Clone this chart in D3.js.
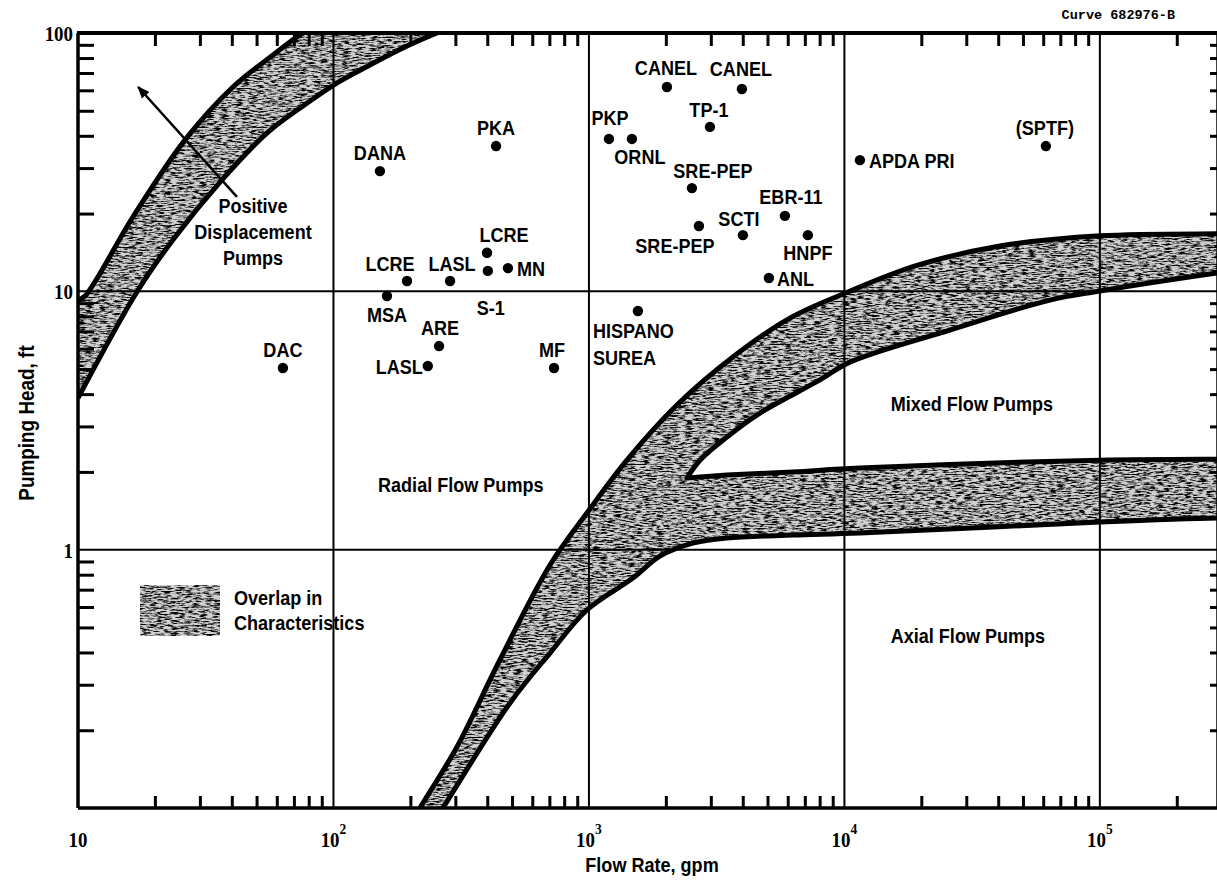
<!DOCTYPE html>
<html><head><meta charset="utf-8">
<script src="https://cdn.jsdelivr.net/npm/d3@7/dist/d3.min.js"></script>
<style>
html,body{margin:0;padding:0;background:#fff;}
svg{display:block;}
</style></head><body>
<script>
// ---------------- DATA ----------------
const pointNames = ["DAC","DANA","PKA","LCRE","LASL","LCRE","S-1","MN","MSA","ARE","LASL","MF","HISPANO\nSUREA",
  "PKP","ORNL","CANEL","CANEL","TP-1","SRE-PEP","SRE-PEP","SCTI","EBR-11","HNPF","ANL","APDA PRI","(SPTF)"];
const pointFlow = [63.4,152,433,194,286,399,402,482,162,259,234,730,1555,
  1198,1473,2020,3970,2976,2530,2695,4006,5850,7195,5064,11500,61460];
const pointHead = [5.05,29.2,36.5,10.96,10.96,14.1,12.0,12.3,9.59,6.14,5.14,5.05,8.39,
  38.9,38.9,61.8,60.7,43.3,25.1,17.9,16.5,19.6,16.5,11.26,32.2,36.5];

// Overlap band 1 (positive displacement / radial)
const band1UpperFlow = [10,10.65,16.4,26.2,40.4,58,76,96.8];
const band1UpperHead = [9.25,9.59,19.4,38.5,61.8,82.2,100,112];
const band1LowerFlow = [10,17.0,23.5,36.6,54.9,76,103,139,187,254,342];
const band1LowerHead = [3.86,9.94,15.8,27.0,41.0,52.2,64.0,75.2,87.5,100,112];

// Overlap band 2 (radial / mixed / axial)
const curveAFlow = [194,218,304,448,704,982,1408,2210,3660,6120,10320,19220,40610,100000,287000,353000];
const curveAHead = [0.0821,0.1,0.172,0.374,0.872,1.386,2.22,3.63,5.57,7.88,9.94,12.6,14.97,16.4,16.7,16.7];
const curveBFlow = [2419,2719,3468,4670,8020,10510,25870,63720,100000,287000,353000];
const curveBHead = [1.893,2.22,2.73,3.38,4.54,5.32,7.08,9.25,10.03,11.77,12.1];
const curveCFlow = [2419,3468,6286,11500,100000,287000,353000];
const curveCHead = [1.893,1.945,2.0,2.07,2.22,2.24,2.24];
const curveDFlow = [236,268,491,704,982,1486,1896,2553,3468,6286,11500,100000,287000,353000];
const curveDHead = [0.082,0.1,0.255,0.398,0.584,0.776,0.944,1.06,1.109,1.139,1.16,1.279,1.325,1.325];

// Arrow (positive displacement)
const arrowFlow = [41.9,17.2];
const arrowHead = [23.2,61.8];

// Axis ticks / labels
const xTickExp = [1,2,3,4,5];
const yTickLabels = ["100","10","1"];
const yTickValues = [100,10,1];
const regionNames = ["Radial Flow Pumps","Mixed Flow Pumps","Axial Flow Pumps"];
const pdLines = ["Positive","Displacement","Pumps"];
const legendLines = ["Overlap in","Characteristics"];

// ---------------- LAYOUT ----------------
const W = 1217, H = 882;
const L = 78, T = 33, R = 1218, B = 808;
const labelLayout = [ // [dx, dy(center), anchor]
  [0,-18,"middle"],[0,-19,"middle"],[0,-19,"middle"],[-17,-18,"middle"],[2,-18,"middle"],[17,-18,"middle"],
  [3,37,"middle"],[9,0,"start"],[0,18,"middle"],[1,-19,"middle"],[-5,0,"end"],[-2,-18,"middle"],[-45,19,"start"],
  [1,-21,"middle"],[8,18,"middle"],[-1,-19,"middle"],[-1,-21,"middle"],[-1,-17,"middle"],[21,-18,"middle"],
  [-24,19,"middle"],[-4,-17,"middle"],[6,-19,"middle"],[0,17,"middle"],[8,0,"start"],[9,0,"start"],[-1,-19,"middle"]];
const regionPos = [[315,1.79],[31550,3.69],[30440,0.467]];

const FONT = "'Liberation Sans',Arial,sans-serif";
const SX = 0.86; // condensed look
const SERIF = "'Liberation Serif','DejaVu Serif',serif";

const x = d3.scaleLog().domain([10, 2.9e5]).range([L, R]);
const y = d3.scaleLog().domain([0.1, 100]).range([B, T]);

const svg = d3.select("body").append("svg").attr("width", W).attr("height", H);
svg.append("rect").attr("width", W).attr("height", H).attr("fill", "#fff");

const defs = svg.append("defs");
defs.append("clipPath").attr("id","plotClip").append("rect")
  .attr("x", L).attr("y", T).attr("width", R - L).attr("height", B - T);
const f = defs.append("filter").attr("id","grain").attr("filterUnits","userSpaceOnUse")
  .attr("x",0).attr("y",0).attr("width",W).attr("height",H);
f.append("feTurbulence").attr("type","fractalNoise").attr("baseFrequency","0.14 0.7")
  .attr("numOctaves",4).attr("seed",5).attr("result","t");
f.append("feColorMatrix").attr("in","t").attr("type","matrix")
  .attr("values","0 0 0 0 0  0 0 0 0 0  0 0 0 0 0  -3.6 0 0 0 2.1").attr("result","m");
f.append("feComposite").attr("in","m").attr("in2","SourceAlpha").attr("operator","in");
const mk = defs.append("marker").attr("id","arrowHead").attr("viewBox","0 0 10 10")
  .attr("refX",9).attr("refY",5).attr("markerWidth",5).attr("markerHeight",5)
  .attr("orient","auto").attr("markerUnits","strokeWidth");
mk.append("path").attr("d","M0,1 L10,5 L0,9 Z").attr("fill","#000");

function seg(fl, hd) {
  const pts = fl.map((v,i)=>[x(v), y(hd[i])]);
  return d3.line().curve(d3.curveCatmullRom.alpha(0.5))(pts);
}
const rev = a => a.slice().reverse();
const cont = s => s.replace(/^M/, "L");

const band1Path = seg(band1UpperFlow, band1UpperHead) + cont(seg(rev(band1LowerFlow), rev(band1LowerHead))) + "Z";
const band2Path = seg(curveAFlow, curveAHead)
  + cont(seg(rev(curveBFlow), rev(curveBHead)))
  + cont(seg(curveCFlow.slice(1), curveCHead.slice(1)))
  + cont(seg(rev(curveDFlow), rev(curveDHead))) + "Z";

const BASE = "#d2d2d2";
const plot = svg.append("g").attr("clip-path","url(#plotClip)");
[band1Path, band2Path].forEach(p => {
  plot.append("path").attr("d", p).attr("fill", BASE);
  plot.append("path").attr("d", p).attr("fill", "#000").attr("filter","url(#grain)");
});

// grid lines
const gx = [100, 1000, 1e4, 1e5], gy = [10, 1];
plot.selectAll(".gx").data(gx).enter().append("line")
  .attr("x1", d=>x(d)).attr("x2", d=>x(d)).attr("y1", T).attr("y2", B)
  .attr("stroke","#000").attr("stroke-width",2);
plot.selectAll(".gy").data(gy).enter().append("line")
  .attr("x1", L).attr("x2", R).attr("y1", d=>y(d)).attr("y2", d=>y(d))
  .attr("stroke","#000").attr("stroke-width",2);

// band boundaries
const bstyle = s => s.attr("fill","none").attr("stroke","#000").attr("stroke-width",5).attr("stroke-linejoin","round");
bstyle(plot.append("path").attr("d", seg(band1UpperFlow, band1UpperHead)));
bstyle(plot.append("path").attr("d", seg(band1LowerFlow, band1LowerHead)));
bstyle(plot.append("path").attr("d", seg(curveAFlow, curveAHead)));
bstyle(plot.append("path").attr("d", seg(rev(curveBFlow), rev(curveBHead)) + cont(seg(curveCFlow.slice(1), curveCHead.slice(1)))));
bstyle(plot.append("path").attr("d", seg(curveDFlow, curveDHead)));

// minor ticks via axes
const minorX = [], minorY = [];
[10,100,1e3,1e4,1e5].forEach(d => { for (let k=2;k<=9;k++) if (k*d < 2.9e5) minorX.push(k*d); });
[0.1,1,10].forEach(d => { for (let k=2;k<=9;k++) minorY.push(k*d); });
const tickStyle = g => { g.selectAll(".tick line").attr("stroke","#000").attr("stroke-width",3);
  g.selectAll(".tick text").remove(); g.select(".domain").remove(); };
svg.append("g").attr("transform",`translate(0,${B})`)
  .call(d3.axisBottom(x).tickValues(minorX).tickSizeInner(-12).tickSizeOuter(0)).call(tickStyle);
svg.append("g").attr("transform",`translate(0,${T})`)
  .call(d3.axisTop(x).tickValues(minorX).tickSizeInner(-13).tickSizeOuter(0)).call(tickStyle);
svg.append("g").attr("transform",`translate(${L},0)`)
  .call(d3.axisLeft(y).tickValues(minorY).tickSizeInner(-16).tickSizeOuter(0)).call(tickStyle);
svg.append("g").attr("transform",`translate(${R},0)`)
  .call(d3.axisRight(y).tickValues(minorY).tickSizeInner(-8).tickSizeOuter(0)).call(tickStyle);

// frame
svg.append("line").attr("x1",L-1).attr("x2",R).attr("y1",T).attr("y2",T).attr("stroke","#000").attr("stroke-width",4);
svg.append("line").attr("x1",L).attr("x2",R).attr("y1",B).attr("y2",B).attr("stroke","#000").attr("stroke-width",3.5);
svg.append("line").attr("x1",L).attr("x2",L).attr("y1",T).attr("y2",B).attr("stroke","#000").attr("stroke-width",3.5);
svg.append("line").attr("x1",R).attr("x2",R).attr("y1",T).attr("y2",B).attr("stroke","#000").attr("stroke-width",3.5);

// text helper (condensed sans)
function txt(g, px, py, s, anchor, size) {
  return g.append("text").attr("transform", `translate(${px},${py}) scale(${SX},1)`)
    .attr("text-anchor", anchor).attr("font-size", size).text(s);
}

// tick labels
const xt = svg.append("g").attr("font-family",SERIF).attr("font-weight","bold").attr("font-size",21).attr("fill","#000");
xTickExp.forEach(e => {
  const t = xt.append("text").attr("transform",`translate(${x(Math.pow(10,e))},847) scale(0.9,1)`).attr("text-anchor","middle");
  t.append("tspan").text("10");
  if (e > 1) t.append("tspan").attr("font-size",15).attr("dy",-13).text(String(e));
});
yTickValues.forEach((v,i) => {
  xt.append("text").attr("transform",`translate(73,${y(v)+8}) scale(0.9,1)`).attr("text-anchor","end").text(yTickLabels[i]);
});

const lab = svg.append("g").attr("font-family",FONT).attr("font-weight","bold").attr("font-size",21).attr("fill","#000");

// axis titles
txt(lab, 652, 872, "Flow Rate, gpm", "middle", 21);
lab.append("text").attr("transform",`translate(34,423) rotate(-90) scale(${SX},1)`).attr("text-anchor","middle")
  .attr("font-size",22).text("Pumping Head, ft");
svg.append("text").attr("x", 1175).attr("y", 19).attr("text-anchor","end")
  .attr("font-family","'Liberation Mono','DejaVu Sans Mono',monospace").attr("font-weight","bold")
  .attr("font-size",13.5).text("Curve 682976-B");

// arrow
svg.append("line").attr("x1", x(arrowFlow[0])).attr("y1", y(arrowHead[0]))
  .attr("x2", x(arrowFlow[1])).attr("y2", y(arrowHead[1]))
  .attr("stroke","#000").attr("stroke-width",2.5).attr("marker-end","url(#arrowHead)");

// points
svg.append("g").selectAll("circle").data(pointNames).enter().append("circle")
  .attr("cx",(d,i)=>x(pointFlow[i])).attr("cy",(d,i)=>y(pointHead[i])).attr("r",5.2).attr("fill","#000");

pointNames.forEach((n,i) => {
  const [dx,dy,anc] = labelLayout[i];
  n.split("\n").forEach((s,j) =>
    txt(lab, x(pointFlow[i])+dx, y(pointHead[i])+dy+7.5+j*27, s, anc, 21));
});

// region labels
regionNames.forEach((n,i) => txt(lab, x(regionPos[i][0]), y(regionPos[i][1])+7.5, n, "middle", 21));
pdLines.forEach((s,i) => txt(lab, 253, 213+i*26, s, "middle", 21));

// legend
const legendBox = "M140,585 H220 V636 H140 Z";
svg.append("path").attr("d",legendBox).attr("fill",BASE);
svg.append("path").attr("d",legendBox).attr("fill","#000").attr("filter","url(#grain)");
legendLines.forEach((s,i) => txt(lab, 234, 605+i*25, s, "start", 21));
</script>
</body></html>
